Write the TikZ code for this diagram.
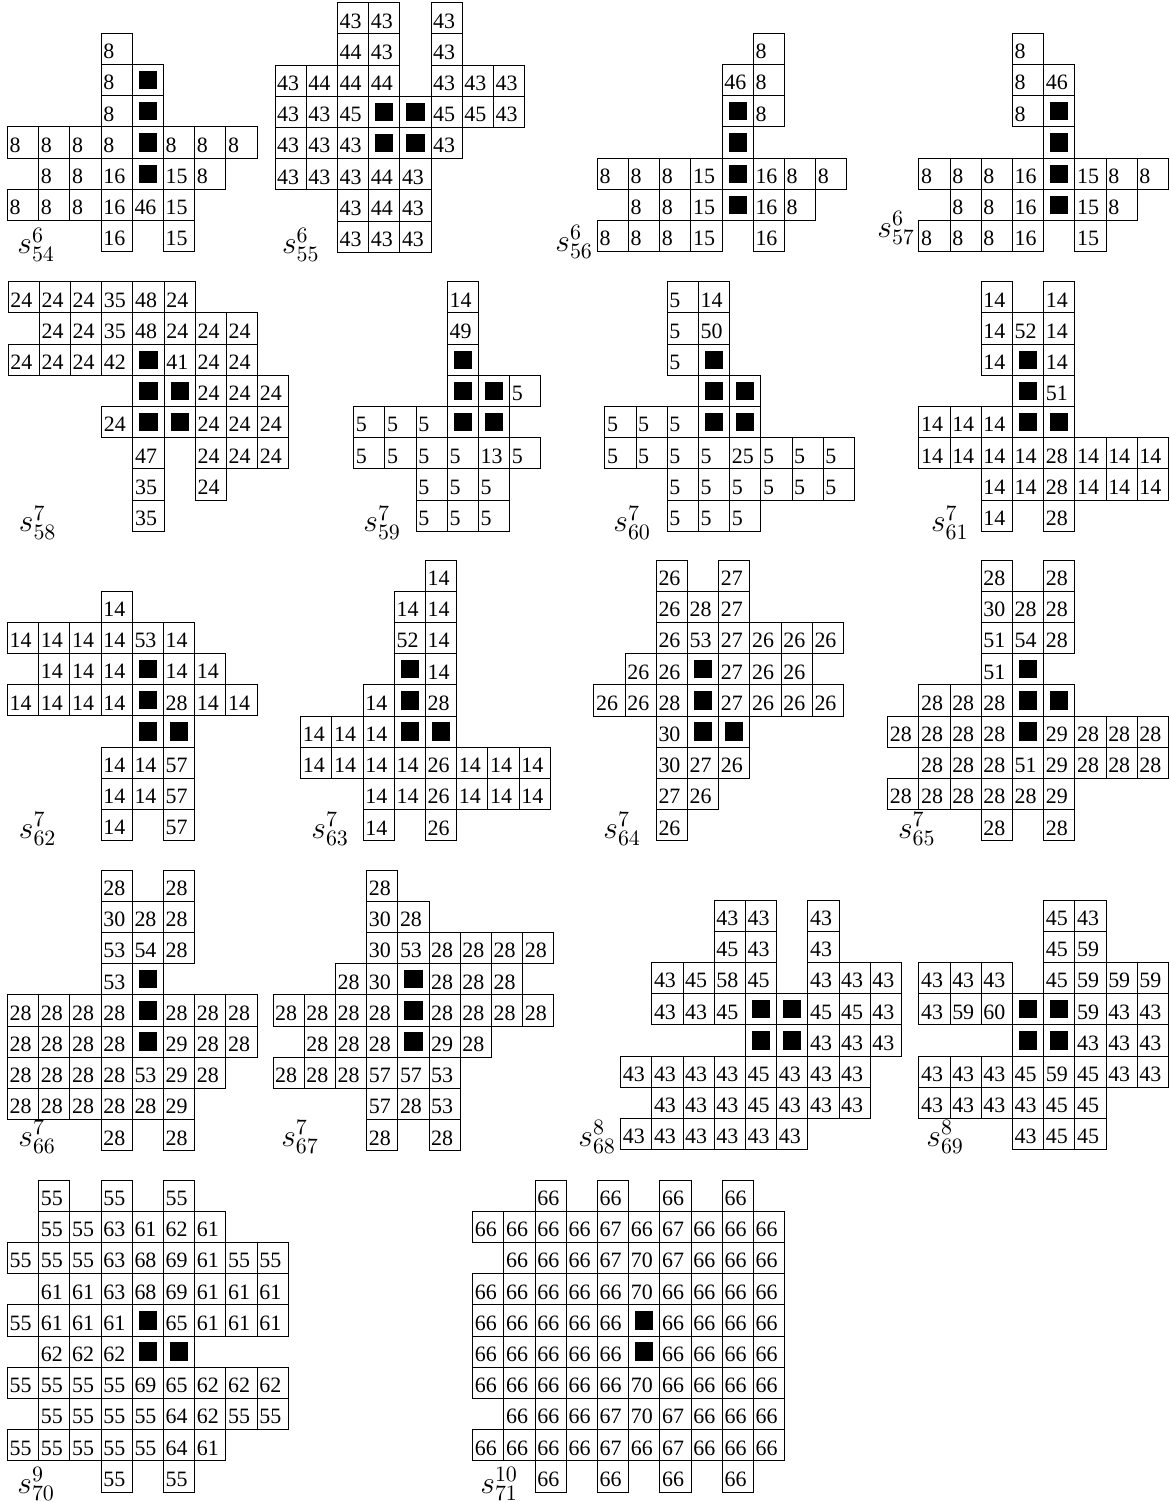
\documentclass[tikz,border=0pt]{standalone}
\usepackage{fontspec}
\setmainfont{Liberation Serif}

\tikzset{
    cell/.style={draw, line width=0.45pt, minimum width=0.5cm, minimum height=0.5cm,
        inner xsep=1pt, inner ysep=0pt, text width=12.2pt, text height=11.6pt,
        text depth=2.6pt, align=left, font=\normalsize},
    hole/.style={draw, line width=0.45pt, minimum size=0.5cm, inner sep=0pt},
    tag/.style={anchor=base west, inner sep=0pt, font=\Large}
}

% one panel: name, top left corner, rows (0 = no cell, -1 = black square)
\newcommand{\cellpanel}[3]{%
  \begin{scope}[shift={#2}]
    \foreach \rowlist [count=\ri from 0] in {#3} {
      \foreach \val [count=\ci from 0] in \rowlist {
        \ifnum\val>0 \node[cell] (#1-\ri-\ci) at (\ci+0.5,-\ri-0.5) {\val};\fi
        \ifnum\val<0 \node[hole] (#1-\ri-\ci) at (\ci+0.5,-\ri-0.5) {\rule{0.293cm}{0.293cm}};\fi
      }
    }
  \end{scope}}

\begin{document}
\begin{tikzpicture}[x=0.5cm, y=0.5cm]
\useasboundingbox (0,0) rectangle (37.468,-48.141);

% first row
\cellpanel{p54}{(0.24,-1.067)}{
  {0,0,0,8},{0,0,0,8,-1},{0,0,0,8,-1},{8,8,8,8,-1,8,8,8},
  {0,8,8,16,-1,15,8},{8,8,8,16,46,15},{0,0,0,16,0,15}}
\cellpanel{p55}{(8.814,-0.087)}{
  {0,0,43,43,0,43},{0,0,44,43,0,43},{43,44,44,44,0,43,43,43},
  {43,43,45,-1,-1,45,45,43},{43,43,43,-1,-1,43},{43,43,43,44,43},
  {0,0,43,44,43},{0,0,43,43,43}}
\cellpanel{p56}{(19.144,-1.067)}{
  {0,0,0,0,0,8},{0,0,0,0,46,8},{0,0,0,0,-1,8},{0,0,0,0,-1},
  {8,8,8,15,-1,16,8,8},{0,8,8,15,-1,16,8},{8,8,8,15,0,16}}
\cellpanel{p57}{(29.45,-1.067)}{
  {0,0,0,8},{0,0,0,8,46},{0,0,0,8,-1},{0,0,0,0,-1},
  {8,8,8,16,-1,15,8,8},{0,8,8,16,-1,15,8},{8,8,8,16,0,15}}
\node[tag] (l54) at (0.545,-8.141) {$s^{6}_{54}$};
\node[tag] (l55) at (9.029,-8.141) {$s^{6}_{55}$};
\node[tag] (l56) at (17.788,-8.05) {$s^{6}_{56}$};
\node[tag] (l57) at (28.109,-7.6) {$s^{6}_{57}$};

% second row
\cellpanel{p58}{(0.26,-9.029)}{
  {24,24,24,35,48,24},{0,24,24,35,48,24,24,24},{24,24,24,42,-1,41,24,24},
  {0,0,0,0,-1,-1,24,24,24},{0,0,0,24,-1,-1,24,24,24},{0,0,0,0,47,0,24,24,24},
  {0,0,0,0,35,0,24},{0,0,0,0,35}}
\cellpanel{p59}{(11.337,-9.029)}{
  {0,0,0,14},{0,0,0,49},{0,0,0,-1},{0,0,0,-1,-1,5},{5,5,5,-1,-1},
  {5,5,5,5,13,5},{0,0,5,5,5},{0,0,5,5,5}}
\cellpanel{p60}{(19.385,-9.029)}{
  {0,0,5,14},{0,0,5,50},{0,0,5,-1},{0,0,0,-1,-1},{5,5,5,-1,-1},
  {5,5,5,5,25,5,5,5},{0,0,5,5,5,5,5,5},{0,0,5,5,5}}
\cellpanel{p61}{(29.45,-9.029)}{
  {0,0,14,0,14},{0,0,14,52,14},{0,0,14,-1,14},{0,0,0,-1,51},{14,14,14,-1,-1},
  {14,14,14,14,28,14,14,14},{0,0,14,14,28,14,14,14},{0,0,14,0,28}}
\node[tag] (l58) at (0.593,-17.051) {$s^{7}_{58}$};
\node[tag] (l59) at (11.635,-17.051) {$s^{7}_{59}$};
\node[tag] (l60) at (19.647,-17.051) {$s^{7}_{60}$};
\node[tag] (l61) at (29.83,-17.051) {$s^{7}_{61}$};

% third row
\cellpanel{p62}{(0.24,-18.942)}{
  {0,0,0,14},{14,14,14,14,53,14},{0,14,14,14,-1,14,14},{14,14,14,14,-1,28,14,14},
  {0,0,0,0,-1,-1},{0,0,0,14,14,57},{0,0,0,14,14,57},{0,0,0,14,0,57}}
\cellpanel{p63}{(9.638,-17.949)}{
  {0,0,0,0,14},{0,0,0,14,14},{0,0,0,52,14},{0,0,0,-1,14},{0,0,14,-1,28},
  {14,14,14,-1,-1},{14,14,14,14,26,14,14,14},{0,0,14,14,26,14,14,14},{0,0,14,0,26}}
\cellpanel{p64}{(19.035,-17.949)}{
  {0,0,26,0,27},{0,0,26,28,27},{0,0,26,53,27,26,26,26},{0,26,26,-1,27,26,26},
  {26,26,28,-1,27,26,26,26},{0,0,30,-1,-1},{0,0,30,27,26},{0,0,27,26},{0,0,26}}
\cellpanel{p65}{(28.45,-17.949)}{
  {0,0,0,28,0,28},{0,0,0,30,28,28},{0,0,0,51,54,28},{0,0,0,51,-1},
  {0,28,28,28,-1,-1},{28,28,28,28,-1,29,28,28,28},{0,28,28,28,51,29,28,28,28},
  {28,28,28,28,28,29},{0,0,0,28,0,28}}
\node[tag] (l62) at (0.593,-26.859) {$s^{7}_{62}$};
\node[tag] (l63) at (9.968,-26.859) {$s^{7}_{63}$};
\node[tag] (l64) at (19.327,-26.859) {$s^{7}_{64}$};
\node[tag] (l65) at (28.772,-26.859) {$s^{7}_{65}$};

% fourth row
\cellpanel{p66}{(0.24,-27.885)}{
  {0,0,0,28,0,28},{0,0,0,30,28,28},{0,0,0,53,54,28},{0,0,0,53,-1},
  {28,28,28,28,-1,28,28,28},{28,28,28,28,-1,29,28,28},{28,28,28,28,53,29,28},
  {28,28,28,28,28,29},{0,0,0,28,0,28}}
\cellpanel{p67}{(8.75,-27.885)}{
  {0,0,0,28},{0,0,0,30,28},{0,0,0,30,53,28,28,28,28},{0,0,28,30,-1,28,28,28},
  {28,28,28,28,-1,28,28,28,28},{0,28,28,28,-1,29,28},{28,28,28,57,57,53},
  {0,0,0,57,28,53},{0,0,0,28,0,28}}
\cellpanel{p68}{(19.891,-28.846)}{
  {0,0,0,43,43,0,43},{0,0,0,45,43,0,43},{0,43,45,58,45,0,43,43,43},
  {0,43,43,45,-1,-1,45,45,43},{0,0,0,0,-1,-1,43,43,43},{43,43,43,43,45,43,43,43},
  {0,43,43,43,45,43,43,43},{43,43,43,43,43,43}}
\cellpanel{p69}{(29.45,-28.846)}{
  {0,0,0,0,45,43},{0,0,0,0,45,59},{43,43,43,0,45,59,59,59},
  {43,59,60,-1,-1,59,43,43},{0,0,0,-1,-1,43,43,43},{43,43,43,45,59,45,43,43},
  {43,43,43,43,45,45},{0,0,0,43,45,45}}
\node[tag] (l66) at (0.577,-36.731) {$s^{7}_{66}$};
\node[tag] (l67) at (9.006,-36.731) {$s^{7}_{67}$};
\node[tag] (l68) at (18.526,-36.731) {$s^{8}_{68}$};
\node[tag] (l69) at (29.679,-36.731) {$s^{8}_{69}$};

% fifth row
\cellpanel{p70}{(0.24,-37.821)}{
  {0,55,0,55,0,55},{0,55,55,63,61,62,61},{55,55,55,63,68,69,61,55,55},
  {0,61,61,63,68,69,61,61,61},{55,61,61,61,-1,65,61,61,61},{0,62,62,62,-1,-1},
  {55,55,55,55,69,65,62,62,62},{0,55,55,55,55,64,62,55,55},
  {55,55,55,55,55,64,61},{0,0,0,55,0,55}}
\cellpanel{p71}{(15.151,-37.821)}{
  {0,0,66,0,66,0,66,0,66},{66,66,66,66,67,66,67,66,66,66},
  {0,66,66,66,67,70,67,66,66,66},{66,66,66,66,66,70,66,66,66,66},
  {66,66,66,66,66,-1,66,66,66,66},{66,66,66,66,66,-1,66,66,66,66},
  {66,66,66,66,66,70,66,66,66,66},{0,66,66,66,67,70,67,66,66,66},
  {66,66,66,66,67,66,67,66,66,66},{0,0,66,0,66,0,66,0,66}}
\node[tag] (l70) at (0.545,-47.853) {$s^{9}_{70}$};
\node[tag] (l71) at (15.385,-47.853) {$s^{10}_{71}$};

\end{tikzpicture}
\end{document}
